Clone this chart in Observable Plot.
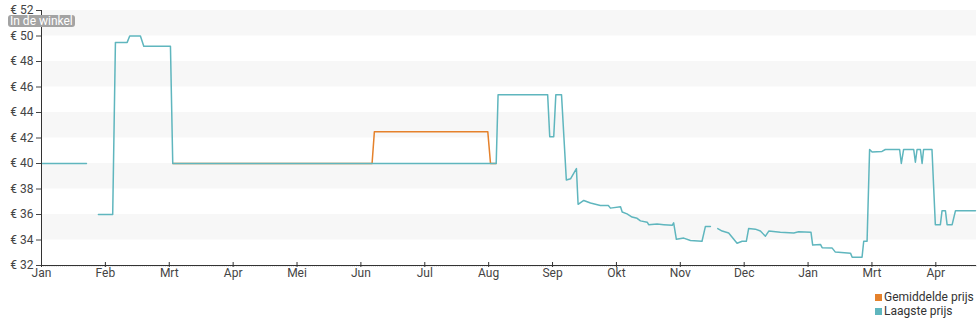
<!DOCTYPE html>
<html>
<head>
<meta charset="utf-8">
<script src="https://cdn.jsdelivr.net/npm/d3@7"></script>
<script src="https://cdn.jsdelivr.net/npm/@observablehq/plot@0.6"></script>
<style>
  body { margin: 0; background: #fff; font-family: Roboto, sans-serif; }
  #wrap { position: relative; width: 980px; height: 325px; }
  #badge { position: absolute; left: 8px; top: 15px; height: 12px; line-height: 12px; padding: 0 2px;
           background: #a3a3a3; color: #fff; font-size: 12px; border-radius: 3px; }
  #legend { position: absolute; left: 875px; top: 290px; font-size: 12px; color: #333; line-height: 14px; }
  #legend span.sw { display: inline-block; width: 7px; height: 7px; margin-right: 2px; vertical-align: 0px; }
</style>
</head>
<body>
<div id="wrap">
  <div id="chart"></div>
  <div id="badge">In de winkel</div>
  <div id="legend"></div>
</div>
<script>
// Month tick labels (evenly spaced ticks)
const monthLabels = ["Jan","Feb","Mrt","Apr","Mei","Jun","Jul","Aug","Sep","Okt","Nov","Dec","Jan","Mrt","Apr"];
const daysPerTick = 365 / 12;
const xMax = 445.2;

// Y ticks (€)
const yTicks = [32,34,36,38,40,42,44,46,48,50,52];
const bandLows = [50,46,42,38,34];

// Series names & colors
const seriesNames = ["Gemiddelde prijs","Laagste prijs"];
const seriesColors = ["#e5812b","#5fb6be"];

// Laagste prijs: [day, price], null price = gap
const lowDays = [0,21.4,24,
  27.1,33.9,35.2,40.8,42.0,47.1,48.7,61.4,62.5,157.4,216.5,217.4,241.0,242.0,243.9,244.9,247.6,
  249.9,251.9,254.7,255.5,258.2,261.4,266.1,269.9,270.9,275.7,276.5,278.8,281.2,283.6,285.2,
  288.4,289.1,293.1,296.3,300.3,301.0,302.3,305.8,309.0,314.5,316.1,318.5,320,
  322.0,324.1,327.2,331.2,333.6,335.6,336.7,339.9,342.3,344.7,346.3,351.8,358.2,360.5,366.4,
  367.2,370.9,371.7,376.4,378.0,385.2,386.0,390.7,391.5,393.1,394.3,395.5,400.2,401.8,408.6,
  409.4,410.5,415.3,416.1,416.9,418.5,419.3,420.0,424.0,425.6,428.0,428.8,430.4,431.2,433.6,
  435.2,444.7];
const lowPrices = [40,40,null,
  36,36,49.5,49.5,50,50,49.2,49.2,40,40,40,45.4,45.4,42.1,42.1,45.4,45.4,
  38.7,38.8,39.6,36.8,37.1,36.9,36.7,36.7,36.5,36.6,36.2,36.05,35.8,35.7,35.5,
  35.4,35.2,35.25,35.2,35.15,35.35,34.05,34.15,33.96,33.9,35.05,35.05,null,
  34.9,34.7,34.55,33.75,33.9,33.9,34.9,34.85,34.7,34.3,34.7,34.6,34.55,34.65,34.6,
  33.6,33.65,33.4,33.38,33.05,32.97,32.65,32.65,33.9,33.9,41.1,40.9,40.95,41.1,41.1,
  40.0,41.1,41.1,40.1,41.1,41.1,40.0,41.1,41.1,35.2,35.2,36.3,36.3,35.2,35.2,
  36.3,36.3];

// Gemiddelde prijs (visible part; elsewhere equal to lowest)
const avgDays = [62.5,157.4,158.5,212.5,213.8,216.5];
const avgPrices = [40,40,42.5,42.5,40,40];

const low = lowDays.map((d,i) => ({day: d, price: lowPrices[i] == null ? NaN : lowPrices[i]}));
const avg = avgDays.map((d,i) => ({day: d, price: avgPrices[i]}));
const tickPos = monthLabels.map((_, i) => i * daysPerTick);
const minor = d3.range(0, xMax, 1);

const chart = Plot.plot({
  width: 980,
  height: 283,
  marginLeft: 41,
  marginRight: 4,
  marginTop: 10,
  marginBottom: 18,
  style: {fontFamily: "Roboto, sans-serif", fontSize: "12px", color: "#444", background: "#fff"},
  x: {domain: [0, xMax]},
  y: {domain: [32, 52]},
  marks: [
    Plot.rect(bandLows, {y1: d => d, y2: d => d + 2, fill: "#f7f7f7"}),
    Plot.line(avg, {x: "day", y: "price", stroke: seriesColors[0], strokeWidth: 1.5}),
    Plot.line(low, {x: "day", y: "price", stroke: seriesColors[1], strokeWidth: 1.5}),
    Plot.ruleX(minor, {x: d => d, y1: 32, y2: 32, insetBottom: -2, stroke: "#c4c4c4", strokeWidth: 0.6}),
    Plot.ruleY([32], {stroke: "#333", strokeWidth: 1}),
    Plot.ruleX(tickPos, {x: d => d, y1: 32, y2: 32, insetTop: -3, insetBottom: -2, stroke: "#333"}),
    Plot.ruleX([0], {stroke: "#333", strokeWidth: 1}),
    Plot.axisY({ticks: yTicks, tickFormat: d => "€ " + d, tickSize: 5, tickPadding: 3, label: null, fontSize: 12}),
    Plot.axisX({ticks: tickPos, tickFormat: (d, i) => monthLabels[i], tickSize: 0, tickPadding: 3, label: null, fontSize: 12})
  ]
});
document.getElementById("chart").appendChild(chart);

const legend = document.getElementById("legend");
seriesNames.forEach((n, i) => {
  const row = document.createElement("div");
  row.innerHTML = `<span class="sw" style="background:${seriesColors[i]}"></span>${n}`;
  legend.appendChild(row);
});
</script>
</body>
</html>
